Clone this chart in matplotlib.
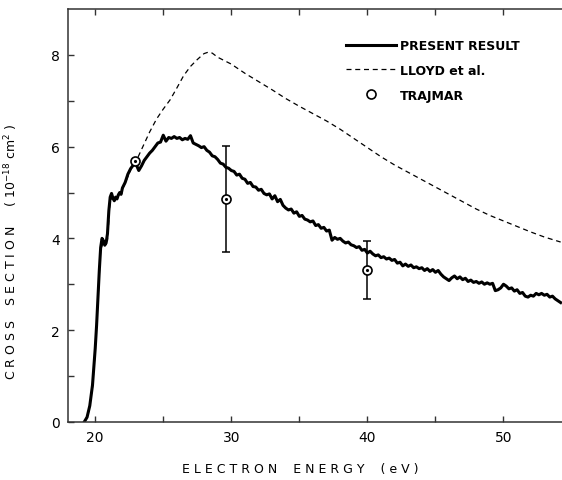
import matplotlib
matplotlib.use('Agg')
import matplotlib.pyplot as plt

# present result (measured, noisy trace)
present_e = [19.2, 19.4, 19.6, 19.8, 19.9, 20.0, 20.1, 20.2, 20.3, 20.4, 20.5, 20.6, 20.7, 20.8, 20.9,
             21.0, 21.1, 21.2, 21.3, 21.4, 21.5, 21.6, 21.7, 21.8, 21.9, 22.0, 22.2, 22.4, 22.6, 22.8,
             23.0, 23.2, 23.4, 23.6, 23.8, 24.0, 24.2, 24.4, 24.6, 24.8, 25.0, 25.2, 25.4, 25.6, 25.8,
             26.0, 26.2, 26.4, 26.6, 26.8, 27.0, 27.2, 27.4, 27.6, 27.8, 28.0, 28.2, 28.4, 28.6, 28.8,
             29.0, 29.2, 29.4, 29.6, 29.8, 30.0, 30.2, 30.4, 30.6, 30.8, 31.0, 31.2, 31.4, 31.6, 31.8,
             32.0, 32.2, 32.4, 32.6, 32.8, 33.0, 33.2, 33.4, 33.6, 33.8, 34.0, 34.2, 34.4, 34.6, 34.8,
             35.0, 35.2, 35.4, 35.6, 35.8, 36.0, 36.2, 36.4, 36.6, 36.8, 37.0, 37.2, 37.4, 37.6, 37.8,
             38.0, 38.2, 38.4, 38.6, 38.8, 39.0, 39.2, 39.4, 39.6, 39.8, 40.0, 40.2, 40.4, 40.6, 40.8,
             41.0, 41.2, 41.4, 41.6, 41.8, 42.0, 42.2, 42.4, 42.6, 42.8, 43.0, 43.2, 43.4, 43.6, 43.8,
             44.0, 44.2, 44.4, 44.6, 44.8, 45.0, 45.2, 45.4, 45.6, 45.8, 46.0, 46.2, 46.4, 46.6, 46.8,
             47.0, 47.2, 47.4, 47.6, 47.8, 48.0, 48.2, 48.4, 48.6, 48.8, 49.0, 49.2, 49.4, 49.6, 49.8,
             50.0, 50.2, 50.4, 50.6, 50.8, 51.0, 51.2, 51.4, 51.6, 51.8, 52.0, 52.2, 52.4, 52.6, 52.8,
             53.0, 53.2, 53.4, 53.6, 53.8, 54.0, 54.2]
present_cs = [0.0, 0.1, 0.35, 0.8, 1.2, 1.6, 2.1, 2.7, 3.3, 3.8, 4.0, 3.95, 3.85, 3.9, 4.1,
              4.6, 4.9, 4.98, 4.88, 4.82, 4.9, 4.86, 4.95, 5.0, 4.96, 5.1, 5.22, 5.4, 5.52, 5.6,
              5.62, 5.48, 5.58, 5.7, 5.78, 5.86, 5.92, 6.0, 6.08, 6.1, 6.25, 6.12, 6.2, 6.18, 6.22,
              6.18, 6.2, 6.15, 6.18, 6.16, 6.24, 6.08, 6.05, 6.02, 5.98, 6.0, 5.92, 5.88, 5.8, 5.78,
              5.72, 5.64, 5.62, 5.55, 5.53, 5.48, 5.46, 5.38, 5.40, 5.31, 5.29, 5.20, 5.22, 5.13, 5.12,
              5.05, 5.07, 4.98, 4.95, 4.97, 4.86, 4.93, 4.80, 4.85, 4.72, 4.66, 4.62, 4.64, 4.55, 4.58,
              4.48, 4.50, 4.42, 4.40, 4.36, 4.38, 4.28, 4.30, 4.22, 4.24, 4.16, 4.18, 3.96, 4.02, 3.98,
              4.00, 3.94, 3.90, 3.92, 3.86, 3.84, 3.80, 3.82, 3.74, 3.76, 3.68, 3.72, 3.66, 3.62, 3.64,
              3.58, 3.60, 3.55, 3.57, 3.52, 3.54, 3.46, 3.48, 3.40, 3.44, 3.39, 3.42, 3.36, 3.38, 3.34,
              3.36, 3.30, 3.34, 3.28, 3.32, 3.26, 3.30, 3.22, 3.16, 3.12, 3.08, 3.14, 3.18, 3.12, 3.16,
              3.10, 3.13, 3.06, 3.09, 3.04, 3.06, 3.02, 3.05, 3.00, 3.03, 3.00, 3.02, 2.86, 2.88, 2.92,
              3.00, 2.96, 2.90, 2.92, 2.85, 2.88, 2.80, 2.82, 2.74, 2.72, 2.76, 2.74, 2.80, 2.77, 2.80,
              2.76, 2.78, 2.72, 2.74, 2.68, 2.64, 2.60]

# Lloyd et al.
lloyd_e = [19.25, 19.5, 19.8, 20.0, 20.2, 20.4, 20.6, 20.9, 21.1, 21.5, 21.9, 22.3, 22.7, 23.0, 23.5,
           24.0, 24.5, 25.0, 25.5, 26.0, 26.5, 27.0, 27.5, 27.8, 28.0, 28.3, 28.6, 29.0, 30.0, 31.0,
           32.0, 33.0, 34.0, 35.0, 36.0, 37.0, 38.0, 39.0, 40.0, 41.0, 42.0, 43.0, 44.0, 45.0, 46.0,
           47.0, 48.0, 49.0, 50.0, 51.0, 52.0, 53.0, 54.2]
lloyd_cs = [0.0, 0.2, 0.75, 1.55, 2.65, 3.75, 3.92, 3.95, 4.85, 4.88, 5.0, 5.28, 5.56, 5.68, 6.0,
            6.32, 6.6, 6.82, 7.02, 7.28, 7.55, 7.75, 7.9, 7.98, 8.03, 8.06, 8.04, 7.95, 7.8, 7.6,
            7.42, 7.24, 7.05, 6.88, 6.72, 6.56, 6.38, 6.18, 5.98, 5.78, 5.6, 5.44, 5.28, 5.12, 4.96,
            4.8, 4.64, 4.5, 4.38, 4.26, 4.14, 4.03, 3.92]

# Trajmar points
trajmar_e = [22.95, 29.6, 40.0]
trajmar_cs = [5.68, 4.86, 3.31]
trajmar_err = [0.0, 1.15, 0.64]

fig = plt.figure(figsize=(5.62, 4.81), dpi=100)
ax = fig.add_axes([0.121, 0.121, 0.879, 0.858])

ax.plot(lloyd_e, lloyd_cs, color='black', lw=0.9, ls=(0, (4, 3)), label='LLOYD et al.')
ax.plot(present_e, present_cs, color='black', lw=2.2, label='PRESENT RESULT')
ax.errorbar(trajmar_e, trajmar_cs, yerr=trajmar_err, fmt='none', ecolor='black',
            elinewidth=1.1, capsize=3, capthick=1.1)
ax.plot(trajmar_e, trajmar_cs, ls='none', marker='o', ms=6.5, mfc='white', mec='black',
        mew=1.2, label='TRAJMAR')
ax.plot(trajmar_e, trajmar_cs, ls='none', marker='.', ms=2.5, color='black')

ax.set_xlim(18.0, 54.3)
ax.set_ylim(0, 9.0)
ax.set_xticks([20, 30, 40, 50])
ax.set_xticks([25, 35, 45], minor=True)
ax.set_yticks([0, 2, 4, 6, 8])
ax.set_yticks([1, 3, 5, 7], minor=True)
ax.tick_params(which='both', direction='in', length=4.5, width=1.0, top=True, right=False,
               labelsize=10, pad=6, color='#333333')
ax.spines['right'].set_visible(False)
for s in ['left', 'bottom', 'top']:
    ax.spines[s].set_linewidth(1.1)
    ax.spines[s].set_color('#333333')

ax.set_xlabel('E L E C T R O N    E N E R G Y    ( e V )', fontsize=9)
ax.xaxis.set_label_coords(0.47, -0.097)
ax.set_ylabel(r'C R O S S    S E C T I O N     ( 10$^{-18}$ cm$^{2}$ )', fontsize=9)
ax.yaxis.set_label_coords(-0.097, 0.414)

handles, labels = ax.get_legend_handles_labels()
order = [1, 0, 2]
leg = ax.legend([handles[i] for i in order], [labels[i] for i in order],
                loc='upper left', bbox_to_anchor=(0.54, 0.955), frameon=False,
                prop={'weight': 'bold', 'size': 9}, handlelength=4.0, handletextpad=0.3,
                labelspacing=0.95, numpoints=1)

fig.savefig('out.png', dpi=100)
